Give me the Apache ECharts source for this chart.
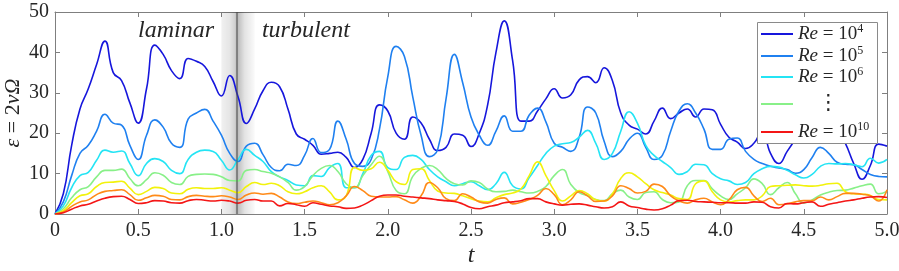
<!DOCTYPE html>
<html><head><meta charset="utf-8">
<script src="https://cdn.jsdelivr.net/npm/echarts@6/dist/echarts.min.js"></script>
<style>html,body{margin:0;padding:0;background:#fff}#c{width:899px;height:271px}</style>
</head><body><div id="c"></div>
<script>
// ---------------- data ----------------
const tValues = [0,0.05,0.1,0.15,0.2,0.25,0.3,0.35,0.4,0.45,
  0.5,0.55,0.6,0.65,0.7,0.75,0.8,0.85,0.9,0.95,
  1.0,1.05,1.1,1.15,1.2,1.25,1.3,1.35,1.4,1.45,
  1.5,1.55,1.6,1.65,1.7,1.75,1.8,1.85,1.9,1.95,
  2.0,2.05,2.1,2.15,2.2,2.25,2.3,2.35,2.4,2.45,
  2.5,2.55,2.6,2.65,2.7,2.75,2.8,2.85,2.9,2.95,
  3.0,3.05,3.1,3.15,3.2,3.25,3.3,3.35,3.4,3.45,
  3.5,3.55,3.6,3.65,3.7,3.75,3.8,3.85,3.9,3.95,
  4.0,4.05,4.1,4.15,4.2,4.25,4.3,4.35,4.4,4.45,
  4.5,4.55,4.6,4.65,4.7,4.75,4.8,4.85,4.9,4.95,5.0];

const re4 = [0,5,17,26,31,37,42.8,35,33,27.5,
  22.5,31,41.8,39.5,35.5,33.5,38.5,37.8,36.5,32.8,
  29.2,34.3,29,22.4,26,30.5,32.6,31.5,26,19.8,
  18.5,17,14.8,15,15.3,14,11.5,13.5,20,27,
  25.5,20,18.5,24,22.5,18.5,15.7,16.5,19.8,19.5,
  16.7,20,27,40,47.8,38,23,23,25.5,28.5,
  31,28.7,29.5,33.2,34,32.5,36.2,33,25,22,
  21,19.8,23,26.2,23.6,25,26,24,26,25.8,
  22.2,19,17.8,16.2,17.5,20.5,15,12.5,15.5,18.5,
  21.5,23,22.5,21.5,21,17.5,12.5,8.6,12,17.3,
  16.8];
const re5 = [0,3,9.5,15,17,20.5,24.7,22.5,22,17,
  13.5,19.5,23.3,21.5,17.5,16.5,23.5,25,25.9,23,
  19.5,15,13,16.8,17.5,14.7,11.5,10.7,12.3,12,
  14.5,18.7,15.2,16,23,18.5,12.5,11.8,13.5,21,
  34,41.5,39,29,19.5,14.2,16,28.5,39.5,32.5,
  24,19.5,17,20.5,24.3,20.5,20.5,24.5,26.2,22.8,
  17.5,16.5,15.5,19,26.5,25,18,14.2,15.5,18.5,
  20,16.5,13.5,14.5,20.5,25.5,27.3,25,21,16,
  16,18.5,18.8,15.5,13.5,12.5,11.8,11.4,11,10.1,
  11,14,16.5,15,12.8,12.3,12.2,11,9.8,9.3,
  9.2];
const re6 = [0,2,6.5,9.5,10.3,13.3,15.8,15.3,15.6,12.5,
  9.5,12.5,13.7,13,10.8,10,13.5,15.3,15.8,15.5,
  13.3,10.9,13.5,16,14.5,13,10.5,9.2,8.3,7.2,
  7,9.5,9.3,11.5,12.5,6.5,6.5,10,14.5,15.5,
  11.5,11,14,14.5,13.5,11,9.2,8,7,7.5,
  8,7,6,7.5,10.3,7,6.2,9,12,15,
  16.8,17.4,17.7,19,20.7,17.5,13.5,15,20.5,25.3,
  22.5,17,14.5,13,11.5,9.8,10.5,12.3,12.2,10,
  8.7,8.2,7.3,7.8,10,11.2,11.8,11.6,10.8,9.7,
  8.9,9.8,11.8,12.5,12.4,12.5,12.2,11.7,13.8,12.6,
  13.5];
const re7 = [0,1.3,4,6,6.8,9.2,10.8,10.8,11.1,8.8,
  7,8.5,10.2,9.6,7.8,7.3,9.3,9.8,9.9,9.8,
  9.2,8.3,8.2,10.8,11,10.5,10.1,9.2,7.8,5.9,
  6.8,9.5,11.3,12,10.5,7.5,6.5,9.5,12.2,14.3,
  10.5,5.8,5,9.3,11.3,12,11,8.8,7.5,7.2,
  8.2,7.8,6.2,5.5,5.6,5.9,5.5,5.2,5.6,6.8,
  9.5,11,7.3,5.3,4.6,3.6,3.3,5,5.9,4.2,
  3.6,5.3,5.5,3.6,2.8,3,7,8.3,8.3,6.2,
  4.5,3.6,5,6.5,8.7,7.5,4.8,6.5,7.8,5,
  2.7,3.5,4.7,5.4,5.8,5.9,6.4,7,7.4,5,
  5.6];
const re8 = [0,0.8,2.8,4.5,5,6.8,7.8,7.9,8.1,6.4,
  4.8,5.6,6.6,6.3,5.2,5,6.1,6.5,6.3,6.3,
  6.5,5.9,5.3,6.8,7.8,7.3,7.6,7,5.5,5,
  5.5,6.5,7,5.5,3.5,4.5,11.5,10.8,11.2,12.8,
  10.8,8,7.3,11,11.2,8.3,5.7,5.2,5.1,4.5,
  3.8,3.2,3,4,4.8,5.2,6.2,9.5,12.9,9.5,
  5.8,3.2,4.5,5.8,5,3.5,3.2,5,8.8,10.2,
  9.2,7.5,6,5.3,4.7,3.8,3.6,7.5,8.2,5.5,
  3.5,3,3.3,3.5,3.5,4.5,6.8,7,7.1,7.2,
  7,6.9,7.1,7.5,7.6,5.5,5,4.9,4.6,3.6,
  3.5];
const re9 = [0,0.5,1.9,3,3.5,4.8,5.6,5.8,6,4.8,
  3.4,4,4.6,4.4,3.6,3.5,4.3,4.6,4.4,4.3,
  4.5,4.2,3.6,4.7,5.2,4.9,5.1,4.2,3,2.6,
  2.9,3.2,2.8,2.3,2.8,4.5,6.8,5.8,4.4,4.2,
  4.2,4.3,3.5,2.7,4.5,7.8,6.5,3.8,3.3,5,
  4.2,3,2.7,3.6,4,2.5,2.9,3.6,4.6,6.3,
  4.8,2.3,3.5,5.5,4.5,3.1,3.2,4.5,7,6.3,
  5.2,5.6,7.4,6.8,4.5,3.3,2.7,3.5,3.9,3,
  2.3,3.5,6,6.6,4.5,3.1,3.9,2.3,2.5,3,
  3.3,3.3,4.2,3.5,4.3,5.1,5.1,4.9,4.5,3.2,
  6];
const re10 = [0,0.3,1.2,2,2.4,3.2,3.9,4.3,4.4,3.6,
  2.6,2.8,3.3,3.2,2.8,2.7,3.3,3.6,3.4,3.2,
  3.4,3.2,2.7,3.4,3.6,3.2,3.2,2,2.6,2.3,
  1.9,2.8,2.4,2,1.8,1.4,1.5,2.2,3.3,4.4,
  4.7,4.7,4.4,4.2,4,3.8,3.5,3.3,3.1,2.5,
  1.6,1.3,1.8,2.2,2.8,3,3.3,3.8,3.8,3,
  2.5,2.2,2.4,2.5,2.2,1.8,1.5,1.8,3,2,
  1.6,1.2,1,1.3,2.2,3.3,3.4,3.1,3,2.9,
  2.8,2.8,2.7,2.7,3,2.9,1.8,1.5,2.6,2.5,
  2.8,3,1.9,2.4,2.8,3.2,3.5,3.9,4.2,4.3,
  4.1];

const seriesNames = ['Re4','Re5','Re6','Re7','Re8','Re9','Re10'];
const seriesValues = [re4, re5, re6, re7, re8, re9, re10];
const legendNames = ['Re4','Re5','Re6','Re7','Re10'];
const xTickLabels = ['0','0.5','1.0','1.5','2.0','2.5','3.0','3.5','4.0','4.5','5.0'];
const yTickLabels = ['0','10','20','30','40','50'];
const transitionBand = [1.0, 1.2];
const transitionCore = 1.095;
const annotations = [{text:'laminar', t:0.727, v:45.3}, {text:'turbulent', t:1.508, v:45.3}];

// ---------------- style ----------------
const colors = ['#1616dc','#1f80f0','#24e4f4','#88f088','#f2f20c','#ff8a18','#f41616'];
const serif = 'Liberation Serif';
const txt = '#262626';
const axisGray = '#7f7f7f';
const legendLabels = {
  Re4: '{i|Re} = 10{s|4}',
  Re5: '{i|Re} = 10{s|5}',
  Re6: '{i|Re} = 10{s|6}',
  Re7: '{d|\u22EE}',
  Re10: '{i|Re} = 10{s|10}'
};
const legendCenters = [34, 56, 77, 104, 132];

const chart = echarts.init(document.getElementById('c'), null, {renderer: 'canvas'});

const series = seriesNames.map((n, k) => ({
  name: n,
  type: 'line',
  data: tValues.map((t, i) => [t, seriesValues[k][i]]),
  symbol: 'none',
  showSymbol: false,
  smooth: 0.5,
  lineStyle: {color: colors[k], width: 1.6},
  itemStyle: {color: colors[k]},
  z: 2 + k * 0.01,
  silent: true,
  animation: false
}));

series[0].markArea = {
  silent: true,
  label: {show: false},
  itemStyle: {
    color: new echarts.graphic.LinearGradient(0, 0, 1, 0, [
      {offset: 0, color: 'rgba(0,0,0,0.06)'},
      {offset: 0.25, color: 'rgba(0,0,0,0.10)'},
      {offset: 0.40, color: 'rgba(0,0,0,0.18)'},
      {offset: 0.47, color: 'rgba(0,0,0,0.28)'},
      {offset: 0.55, color: 'rgba(0,0,0,0.22)'},
      {offset: 0.70, color: 'rgba(0,0,0,0.11)'},
      {offset: 1, color: 'rgba(0,0,0,0.02)'}
    ])
  },
  data: [[{xAxis: transitionBand[0]}, {xAxis: transitionBand[1]}]]
};
series[0].markLine = {
  silent: true,
  symbol: 'none',
  label: {show: false},
  lineStyle: {color: 'rgba(70,70,70,0.5)', width: 2, type: 'solid'},
  data: [{xAxis: transitionCore}]
};
series[0].markPoint = {
  silent: true,
  symbol: 'circle',
  symbolSize: 0,
  data: annotations.map(a => ({coord: [a.t, a.v], value: a.text,
    label: {show: true, position: 'inside', formatter: a.text,
      fontFamily: serif, fontStyle: 'italic', fontSize: 24, color: txt}}))
};

const legends = legendNames.map((n, k) => {
  const h = (n === 'Re7') ? 26 : 22;
  return {
    data: [{name: n, icon: 'rect'}],
    left: 761,
    top: legendCenters[k] - h / 2,
    orient: 'vertical',
    padding: 0,
    itemWidth: 32,
    itemHeight: 2,
    selectedMode: false,
    z: 60,
    formatter: name => legendLabels[name],
    textStyle: {
      fontFamily: serif, fontSize: 19, color: txt, lineHeight: 22,
      rich: {
        i: {fontFamily: serif, fontStyle: 'italic', fontSize: 19, lineHeight: 22, color: txt},
        s: {fontFamily: serif, fontSize: 12, lineHeight: 13, verticalAlign: 'top', color: txt},
        d: {fontFamily: 'DejaVu Sans', fontSize: 21, lineHeight: 26, padding: [0, 0, 0, 20], color: txt}
      }
    }
  };
});

const commonAxis = {
  axisLine: {show: true, onZero: false, lineStyle: {color: axisGray, width: 1}},
  axisTick: {show: true, inside: true, length: 5, lineStyle: {color: axisGray, width: 1}},
  splitLine: {show: false}
};

chart.setOption({
  animation: false,
  backgroundColor: '#ffffff',
  grid: {left: 55, right: 12, top: 12, bottom: 57, containLabel: false, outerBoundsMode: 'none'},
  xAxis: [
    Object.assign({
      type: 'value', min: 0, max: 5, interval: 0.5, position: 'bottom',
      axisLabel: {margin: 7, fontFamily: serif, fontSize: 20, color: txt,
        formatter: (v) => xTickLabels[Math.round(v / 0.5)]},
      name: 't', nameLocation: 'middle', nameGap: 30, nameMoveOverlap: false,
      nameTextStyle: {fontFamily: serif, fontStyle: 'italic', fontSize: 24, color: txt}
    }, commonAxis),
    Object.assign({
      type: 'value', min: 0, max: 5, interval: 0.5, position: 'top',
      axisLabel: {show: false}
    }, commonAxis)
  ],
  yAxis: [
    Object.assign({
      type: 'value', min: 0, max: 50, interval: 10, position: 'left',
      axisLabel: {margin: 6, fontFamily: serif, fontSize: 20, color: txt,
        formatter: (v) => yTickLabels[Math.round(v / 10)]},
      name: '{i|\u03B5} = 2{i|\u03BD\u03A9}', nameLocation: 'middle', nameRotate: 90, nameGap: 31,
      nameMoveOverlap: false,
      nameTextStyle: {fontFamily: serif, fontSize: 22, color: txt,
        rich: {i: {fontFamily: serif, fontStyle: 'italic', fontSize: 22, color: txt}}}
    }, commonAxis),
    Object.assign({
      type: 'value', min: 0, max: 50, interval: 10, position: 'right',
      axisLabel: {show: false}
    }, commonAxis)
  ],
  legend: legends,
  graphic: [{
    type: 'rect', left: 757, top: 22, z: 50,
    shape: {width: 120, height: 121},
    style: {fill: '#ffffff', stroke: '#8a8a8a', lineWidth: 1}
  }],
  series: series
});
</script>
</body></html>
